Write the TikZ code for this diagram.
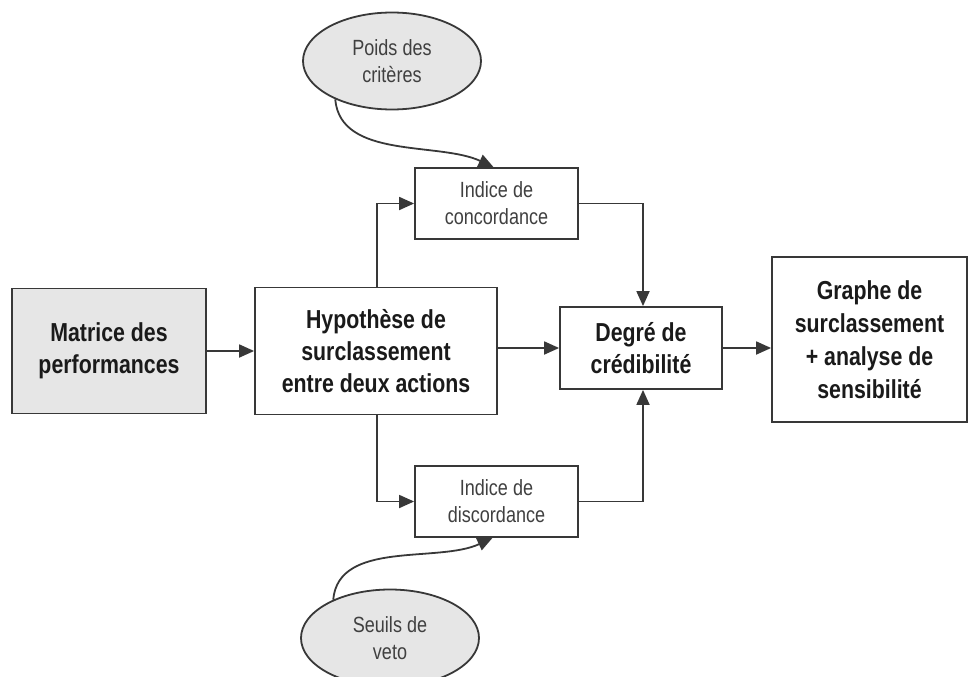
\documentclass[tikz,border=0pt]{standalone}
\usepackage{fontspec}
\setmainfont{Liberation Sans}[FakeStretch=0.82]
\usetikzlibrary{shapes.geometric,arrows.meta}
\definecolor{boxline}{HTML}{383838}
\definecolor{boxfill}{HTML}{E6E6E6}
\definecolor{bigtext}{HTML}{1A1A1A}
\definecolor{smalltext}{HTML}{404040}
\tikzset{
  bigbox/.style={draw=boxline, line width=1.8pt, fill=white, rectangle, inner sep=0pt, align=center,
    text=bigtext, font=\fontsize{26}{32}\selectfont\bfseries},
  smallbox/.style={draw=boxline, line width=1.8pt, fill=white, rectangle, inner sep=0pt, align=center,
    text=smalltext, font=\fontsize{22}{27}\selectfont},
  oval/.style={draw=boxline, line width=1.8pt, fill=boxfill, ellipse, inner sep=0pt, align=center,
    minimum width=178pt, minimum height=97pt, text=smalltext, font=\fontsize{22}{27}\selectfont},
  conn/.style={draw=boxline, line width=1.8pt, -{Triangle[length=15pt,width=13pt]}}
}
\begin{document}
\begin{tikzpicture}[x=1pt,y=-1pt]
\useasboundingbox (0,0) rectangle (969,677);
\node[oval] (poids) at (392,61) {Poids des\\critères};
\node[oval] (seuils) at (390,638) {Seuils de\\veto};
\node[smallbox, minimum width=163pt, minimum height=71pt] (conc) at (496.5,203.5) {Indice de\\concordance};
\node[smallbox, minimum width=163pt, minimum height=71pt] (disc) at (496.5,501.5) {Indice de\\discordance};
\node[bigbox, fill=boxfill, minimum width=194pt, minimum height=125pt] (matrice) at (109,351) {Matrice des\\performances};
\node[bigbox, minimum width=242pt, minimum height=127pt] (hyp) at (376,351) {Hypothèse de\\surclassement\\entre deux actions};
\node[bigbox, minimum width=162pt, minimum height=82pt] (deg) at (641,348) {Degré de\\crédibilité};
\node[bigbox, font=\fontsize{26}{33}\selectfont\bfseries, minimum width=195pt, minimum height=165pt] (graphe) at (869.5,339.5) {Graphe de\\surclassement\\+ analyse de\\sensibilité};
\draw[conn] (matrice.east) -- (hyp.west);
\draw[conn] (deg.west -| hyp.east) -- (deg.west);
\draw[conn] (deg.east) -- (deg.east -| graphe.west);
\draw[conn] ([xshift=1pt]hyp.north) |- (conc.west);
\draw[conn] ([xshift=1pt]hyp.south) |- (disc.west);
\draw[conn] (conc.east) -| ([xshift=2pt]deg.north);
\draw[conn] (disc.east) -| ([xshift=2pt]deg.south);
\draw[conn] (poids.214) to[out=-85, in=155, looseness=0.9] ([xshift=-3pt]conc.north);
\draw[conn] (seuils.146) to[out=85, in=-155, looseness=0.9] ([xshift=-4pt]disc.south);
\end{tikzpicture}
\end{document}
